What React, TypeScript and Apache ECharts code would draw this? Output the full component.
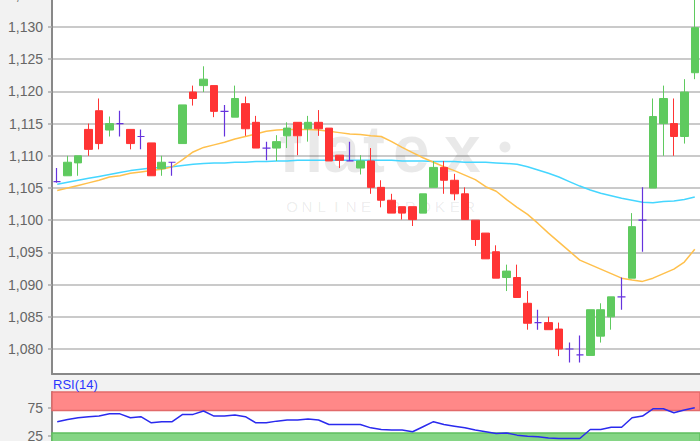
import React, { useEffect, useRef } from 'react';
import * as echarts from 'echarts';

const opens = [1.1060, 1.1069, 1.1089, 1.1141, 1.1170, 1.1140, 1.1150, 1.1141, 1.1130, 1.1120, 1.1080, 1.1090, 1.1119, 1.1199, 1.1209, 1.1209, 1.1169, 1.1160, 1.1181, 1.1152, 1.1112, 1.1112, 1.1131, 1.1152, 1.1142, 1.1152, 1.1143, 1.1101, 1.1092, 1.1081, 1.1092, 1.1051, 1.1031, 1.1021, 1.1021, 1.1011, 1.1051, 1.1082, 1.1062, 1.1041, 1.1000, 1.0980, 1.0951, 1.0911, 1.0911, 1.0871, 1.0841, 1.0841, 1.0831, 1.0800, 1.0791, 1.0790, 1.0820, 1.0850, 1.0881, 1.0910, 1.1000, 1.1050, 1.1150, 1.1150, 1.1130, 1.1229];
const closes = [1.1060, 1.1090, 1.1100, 1.1110, 1.1119, 1.1150, 1.1150, 1.1119, 1.1130, 1.1069, 1.1090, 1.1090, 1.1179, 1.1189, 1.1219, 1.1169, 1.1169, 1.1189, 1.1142, 1.1112, 1.1112, 1.1122, 1.1143, 1.1131, 1.1152, 1.1142, 1.1092, 1.1093, 1.1092, 1.1092, 1.1051, 1.1031, 1.1011, 1.1011, 1.1001, 1.1041, 1.1082, 1.1062, 1.1041, 1.1001, 1.0970, 1.0940, 1.0910, 1.0921, 1.0880, 1.0840, 1.0841, 1.0830, 1.0800, 1.0800, 1.0791, 1.0861, 1.0861, 1.0881, 1.0881, 1.0990, 1.1000, 1.1161, 1.1189, 1.1130, 1.1199, 1.1299];
const lows = [1.1058, 1.1069, 1.1069, 1.1100, 1.1110, 1.1130, 1.1130, 1.1110, 1.1110, 1.1069, 1.1069, 1.1069, 1.1119, 1.1178, 1.1199, 1.1160, 1.1130, 1.1160, 1.1131, 1.1112, 1.1093, 1.1092, 1.1112, 1.1101, 1.1122, 1.1131, 1.1092, 1.1081, 1.1092, 1.1071, 1.1041, 1.1020, 1.1011, 1.1001, 1.0991, 1.1011, 1.1051, 1.1041, 1.1031, 1.1001, 1.0960, 1.0940, 1.0910, 1.0890, 1.0880, 1.0830, 1.0830, 1.0830, 1.0789, 1.0779, 1.0779, 1.0790, 1.0810, 1.0830, 1.0861, 1.0910, 1.0951, 1.1050, 1.1100, 1.1100, 1.1119, 1.1219];
const highs = [1.1081, 1.1100, 1.1100, 1.1150, 1.1189, 1.1161, 1.1170, 1.1141, 1.1141, 1.1120, 1.1100, 1.1090, 1.1179, 1.1209, 1.1239, 1.1209, 1.1179, 1.1209, 1.1192, 1.1162, 1.1122, 1.1132, 1.1152, 1.1152, 1.1162, 1.1171, 1.1143, 1.1101, 1.1122, 1.1101, 1.1112, 1.1062, 1.1041, 1.1021, 1.1021, 1.1041, 1.1092, 1.1092, 1.1072, 1.1051, 1.1000, 1.0980, 1.0961, 1.0931, 1.0931, 1.0890, 1.0861, 1.0850, 1.0841, 1.0810, 1.0821, 1.0861, 1.0871, 1.0881, 1.0911, 1.1011, 1.1051, 1.1189, 1.1209, 1.1189, 1.1219, 1.1360];

const maOrange = [1.1046, 1.1050, 1.1054, 1.1058, 1.1062, 1.1067, 1.1069, 1.1073, 1.1075, 1.1077, 1.1079, 1.1083, 1.1094, 1.1106, 1.1113, 1.1117, 1.1121, 1.1126, 1.1130, 1.1134, 1.1138, 1.1140, 1.1141, 1.1141, 1.1141, 1.1140, 1.1138, 1.1136, 1.1134, 1.1133, 1.1131, 1.1130, 1.1122, 1.1113, 1.1105, 1.1097, 1.1090, 1.1083, 1.1077, 1.1070, 1.1063, 1.1052, 1.1045, 1.1032, 1.1020, 1.1009, 1.0995, 1.0980, 1.0966, 1.0952, 1.0938, 1.0931, 1.0924, 1.0917, 1.0910, 1.0907, 1.0905, 1.0910, 1.0917, 1.0924, 1.0935, 1.0955];
const maCyan = [1.1056, 1.1059, 1.1062, 1.1065, 1.1068, 1.1071, 1.1074, 1.1077, 1.1079, 1.1081, 1.1082, 1.1083, 1.1085, 1.1087, 1.1088, 1.1089, 1.1089, 1.1090, 1.1090, 1.1091, 1.1091, 1.1092, 1.1092, 1.1093, 1.1093, 1.1093, 1.1093, 1.1093, 1.1093, 1.1093, 1.1093, 1.1093, 1.1093, 1.1092, 1.1092, 1.1092, 1.1091, 1.1091, 1.1091, 1.1090, 1.1090, 1.1090, 1.1089, 1.1088, 1.1087, 1.1083, 1.1078, 1.1073, 1.1067, 1.1060, 1.1053, 1.1047, 1.1042, 1.1038, 1.1034, 1.1031, 1.1028, 1.1027, 1.1029, 1.1030, 1.1032, 1.1036];
const rsi = [50, 54, 57, 59, 60, 64, 64, 57, 59, 48, 50, 50, 63, 63, 69, 60, 60, 62, 59, 48, 48, 51, 53, 53, 55, 53, 45, 45, 45, 45, 39, 36, 35, 35, 32, 41, 50, 45, 42, 39, 35, 32, 29, 30, 26, 24, 23, 21, 20, 20, 20, 36, 36, 40, 40, 57, 60, 73, 73, 66, 71, 75];
const rsiLabels = [25, 75];
const categories = opens.map((_, i) => String(i + 1));

const GREEN = '#5fca5f';
const RED = '#ff3434';
const PURPLE = '#6633dd';

const fmt = (v: number) => v.toFixed(3).replace('.', ',');

export default function App() {
  const ref = useRef<HTMLDivElement>(null);
  useEffect(() => {
    if (!ref.current) return;
    const chart = echarts.init(ref.current, null, { renderer: 'svg' });
    const candleData = opens.map((o, i) => {
      const v = [o, closes[i], lows[i], highs[i]];
      if (o === closes[i]) {
        return {
          value: v,
          itemStyle: { color: PURPLE, color0: PURPLE, borderColor: PURPLE, borderColor0: PURPLE, borderColorDoji: PURPLE, borderWidth: 1.2 },
        };
      }
      return v;
    });
    const wm = 'rgba(0,0,0,0.085)';
    const flatLetters = [
      { t: 'f', x: 279 }, { t: 'l', x: 305 }, { t: 'a', x: 323 }, { t: 't', x: 363 },
      { t: 'e', x: 393 }, { t: 'x', x: 444 },
    ];
    const broker = 'ONLINE BROKER'.split('');
    const graphic: any[] = [
      ...flatLetters.map((l) => ({
        type: 'text', z: 1, x: l.x, y: 182,
        style: { text: l.t, fill: wm, font: 'bold 66px "Liberation Sans", Arial', textAlign: 'left', textVerticalAlign: 'bottom' },
      })),
      { type: 'circle', z: 1, shape: { cx: 505, cy: 147, r: 5.5 }, style: { fill: wm } },
      ...broker.map((c, k) => ({
        type: 'text', z: 1, x: 292 + 14.8 * k, y: 206,
        style: { text: c, fill: wm, font: '15px "Liberation Sans", Arial', textAlign: 'center', textVerticalAlign: 'middle' },
      })),
      {
        type: 'text', z: 5, x: 53, y: 384,
        style: { text: 'RSI(14)', fill: '#2a36ff', font: '13px "Liberation Sans", Arial', textAlign: 'left', textVerticalAlign: 'middle' },
      },
    ];
    chart.setOption({
      animation: false,
      backgroundColor: '#f2f2f2',
      graphic,
      grid: [
        { left: 52, right: 0, top: -5.2, height: 379.2, show: true, backgroundColor: '#ffffff', borderWidth: 0, containLabel: false, outerBoundsMode: 'none' },
        { left: 52, right: 0, top: 392, height: 57.7, show: true, backgroundColor: '#ffffff', borderWidth: 0, containLabel: false, outerBoundsMode: 'none' },
      ],
      xAxis: [
        {
          type: 'category', gridIndex: 0, data: categories, boundaryGap: true,
          axisLine: { show: true, onZero: false, lineStyle: { color: '#888', width: 2 } },
          axisTick: { show: false }, axisLabel: { show: false }, splitLine: { show: false },
        },
        {
          type: 'category', gridIndex: 1, data: categories, boundaryGap: true,
          axisLine: { show: false }, axisTick: { show: false }, axisLabel: { show: false }, splitLine: { show: false },
        },
      ],
      yAxis: [
        {
          type: 'value', gridIndex: 0, min: 1.07612, max: 1.135, splitNumber: 12, minInterval: 0.005, maxInterval: 0.005,
          axisLine: { show: true, lineStyle: { color: '#888', width: 2 } },
          axisTick: { show: true, length: 4, lineStyle: { color: '#aaa', width: 1.5 } },
          axisLabel: { showMinLabel: false, showMaxLabel: true, formatter: fmt, color: '#666', fontSize: 14, fontFamily: '"Liberation Sans", Arial', margin: 9 },
          splitLine: { show: true, lineStyle: { color: '#b9b9b9', width: 1.5 } },
        },
        {
          type: 'value', gridIndex: 1, min: 0, max: 103, interval: 25,
          axisLine: { show: true, lineStyle: { color: '#888', width: 2 } },
          axisTick: { show: true, length: 4, customValues: rsiLabels, lineStyle: { color: '#aaa', width: 1.5 } },
          axisLabel: { customValues: rsiLabels, color: '#666', fontSize: 14, fontFamily: '"Liberation Sans", Arial', margin: 9 },
          splitLine: { show: true, lineStyle: { color: '#bbbbbb', width: 1.5 } },
        },
      ],
      series: [
        {
          type: 'line', name: 'MA50', xAxisIndex: 0, yAxisIndex: 0, data: maCyan, symbol: 'none', z: 2,
          lineStyle: { color: '#45d6ff', width: 1.5 },
        },
        {
          type: 'line', name: 'MA20', xAxisIndex: 0, yAxisIndex: 0, data: maOrange, symbol: 'none', z: 2,
          lineStyle: { color: '#ffc04c', width: 1.5 },
        },
        {
          type: 'candlestick', name: 'EUR/USD', xAxisIndex: 0, yAxisIndex: 0, data: candleData, barWidth: 8, z: 3,
          itemStyle: { color: GREEN, color0: RED, borderColor: GREEN, borderColor0: RED, borderWidth: 1 },
        },
        {
          type: 'line', name: 'bands', xAxisIndex: 1, yAxisIndex: 1, data: [], z: 1, symbol: 'none',
          markArea: {
            silent: true,
            data: [
              [{ yAxis: 70, itemStyle: { color: '#ff8888', borderColor: '#e26a6a', borderWidth: 1.5 } }, { yAxis: 103 }],
              [{ yAxis: 0, itemStyle: { color: '#85d585', borderColor: '#5fbf5f', borderWidth: 1.5 } }, { yAxis: 30 }],
            ],
          },
        },
        {
          type: 'line', name: 'RSI(14)', xAxisIndex: 1, yAxisIndex: 1, data: rsi, symbol: 'none', z: 4,
          lineStyle: { color: '#2a2aee', width: 1.5 },
        },
      ],
    });
    return () => chart.dispose();
  }, []);
  return <div ref={ref} style={{ position: 'fixed', left: 0, top: 0, width: 700, height: 441 }} />;
}
